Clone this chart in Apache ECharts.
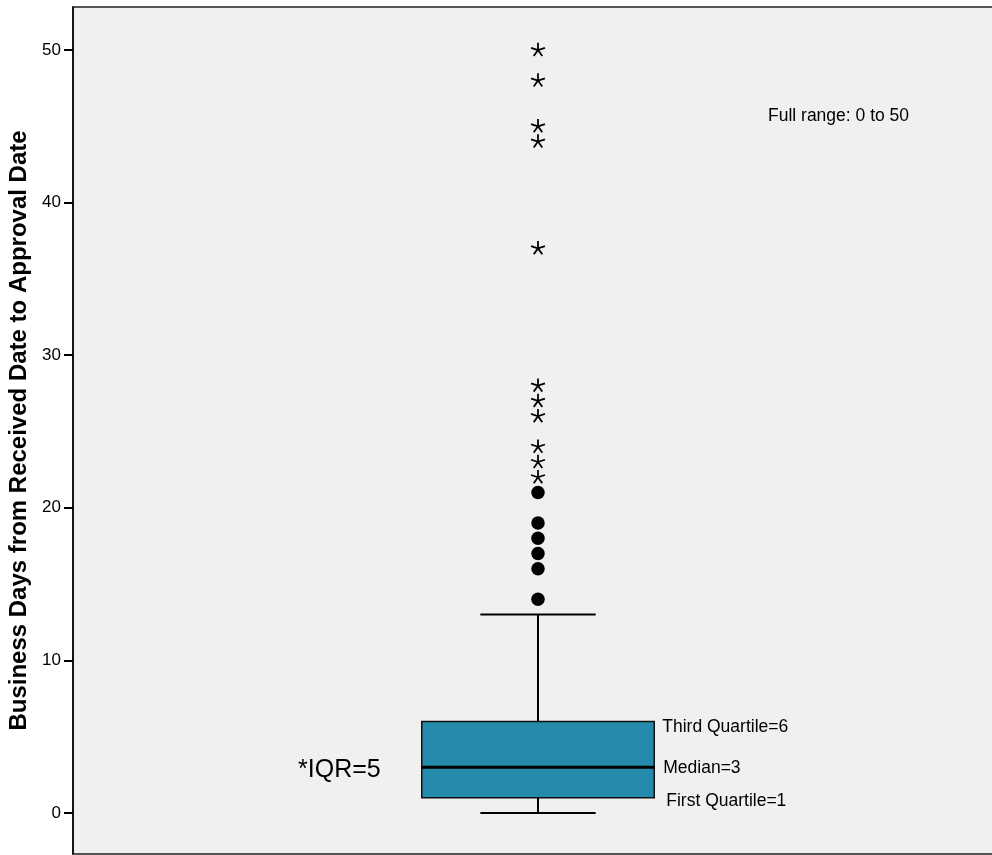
<!DOCTYPE html>
<html>
<head>
<meta charset="utf-8">
<script src="https://cdn.jsdelivr.net/npm/echarts@6/dist/echarts.min.js"></script>
<style>
html,body{margin:0;padding:0;background:#fff;}
#chart{width:992px;height:855px;}
</style>
</head>
<body>
<div id="chart"></div>
<script>
// ---- data ----
const categories = ['Business Days'];
const whiskerLow = [0];
const firstQuartile = [1];
const medianValue = [3];
const thirdQuartile = [6];
const whiskerHigh = [13];
const outlierCircles = [14, 16, 17, 18, 19, 21];
const outlierStars = [22, 23, 24, 26, 27, 28, 37, 44, 45, 48, 50];
const yTicks = [0, 10, 20, 30, 40, 50];
const fullRange = [0, 50];
const yTitle = 'Business Days from Received Date to Approval Date';

const FONT = '"Liberation Sans", Arial, sans-serif';

const boxData = categories.map((c, i) => [i, whiskerLow[i], firstQuartile[i], medianValue[i], thirdQuartile[i], whiskerHigh[i]]);
const circleData = outlierCircles.map(v => [0, v]);
const starData = outlierStars.map(v => [0, v]);

const chart = echarts.init(document.getElementById('chart'), null, {renderer: 'canvas'});

function renderBox(params, api) {
  const x = api.value(0);
  const band = api.size([1, 0])[0];
  const bw = band * 0.25;
  const cw = band * 0.124;
  const pLow = api.coord([x, api.value(1)]);
  const pQ1 = api.coord([x, api.value(2)]);
  const pMed = api.coord([x, api.value(3)]);
  const pQ3 = api.coord([x, api.value(4)]);
  const pHigh = api.coord([x, api.value(5)]);
  const cx = pMed[0];
  const lineStyle = {stroke: '#000', lineWidth: 2};
  const txt = (t, x0, y0, size, align) => ({
    type: 'text',
    style: {text: t, x: x0, y: y0, fill: '#000', font: size + 'px ' + FONT, textAlign: align || 'left', textVerticalAlign: 'middle'}
  });
  const iqr = api.value(4) - api.value(2);
  return {
    type: 'group',
    children: [
      {type: 'line', shape: {x1: cx, y1: pQ3[1], x2: cx, y2: pHigh[1]}, style: lineStyle},
      {type: 'line', shape: {x1: cx, y1: pLow[1], x2: cx, y2: pQ1[1]}, style: lineStyle},
      {type: 'line', shape: {x1: cx - cw / 2, y1: pHigh[1], x2: cx + cw / 2, y2: pHigh[1]}, style: lineStyle},
      {type: 'line', shape: {x1: cx - cw / 2, y1: pLow[1], x2: cx + cw / 2, y2: pLow[1]}, style: lineStyle},
      {type: 'rect', shape: {x: cx - bw / 2, y: pQ3[1], width: bw, height: pQ1[1] - pQ3[1]},
        style: {fill: '#258BAD', stroke: '#111', lineWidth: 1.5}},
      {type: 'line', shape: {x1: cx - bw / 2, y1: pMed[1], x2: cx + bw / 2, y2: pMed[1]}, style: {stroke: '#000', lineWidth: 3}},
      txt('Third Quartile=' + api.value(4), cx + bw / 2 + 8, pQ3[1] + 6, 17.5),
      txt('Median=' + api.value(3), cx + bw / 2 + 9, pMed[1] + 1, 17.5),
      txt('First Quartile=' + api.value(2), cx + bw / 2 + 12, pQ1[1] + 3.5, 17.5),
      txt('*IQR=' + iqr, cx - bw / 2 - 41, pMed[1] + 3, 25, 'right')
    ]
  };
}

function renderStar(params, api) {
  const p = api.coord([api.value(0), api.value(1)]);
  const r = 7.3;
  const children = [];
  for (let k = 0; k < 5; k++) {
    const a = (-90 + k * 72) * Math.PI / 180;
    children.push({type: 'line', shape: {x1: p[0], y1: p[1], x2: p[0] + r * Math.cos(a), y2: p[1] + r * Math.sin(a)},
      style: {stroke: '#000', lineWidth: 1.8}});
  }
  return {type: 'group', children};
}

const option = {
  animation: false,
  backgroundColor: '#ffffff',
  grid: {
    left: 73, top: 7, width: 930, bottom: 1,
    outerBoundsMode: 'none', containLabel: false,
    show: true, backgroundColor: '#f0f0f0', borderColor: '#222', borderWidth: 1.5
  },
  xAxis: {
    type: 'category', data: categories,
    axisLine: {show: false}, axisTick: {show: false}, axisLabel: {show: false}, splitLine: {show: false}
  },
  yAxis: {
    type: 'value',
    min: -2.69, max: 52.82,
    name: yTitle,
    nameLocation: 'middle',
    nameGap: 40,
    nameTextStyle: {fontFamily: FONT, fontSize: 24, fontWeight: 'bold', color: '#000'},
    axisLine: {show: true, lineStyle: {color: '#000', width: 1.5}},
    axisTick: {show: true, customValues: yTicks, length: 9, lineStyle: {color: '#000', width: 2}},
    axisLabel: {show: true, customValues: yTicks, fontFamily: FONT, fontSize: 17, color: '#000', margin: 12},
    splitLine: {show: false}
  },
  series: [
    {type: 'custom', renderItem: renderBox, data: boxData, encode: {x: 0, y: [1, 2, 3, 4, 5]}, z: 2},
    {type: 'scatter', data: circleData, symbol: 'circle', symbolSize: 13.5, itemStyle: {color: '#000', opacity: 1}, z: 3},
    {type: 'custom', renderItem: renderStar, data: starData, encode: {x: 0, y: 1}, z: 3}
  ],
  graphic: [
    {type: 'text', left: 768, top: 107,
      style: {text: 'Full range: ' + fullRange[0] + ' to ' + fullRange[1], fill: '#000', font: '17.5px ' + FONT}}
  ]
};
chart.setOption(option);
</script>
</body>
</html>
